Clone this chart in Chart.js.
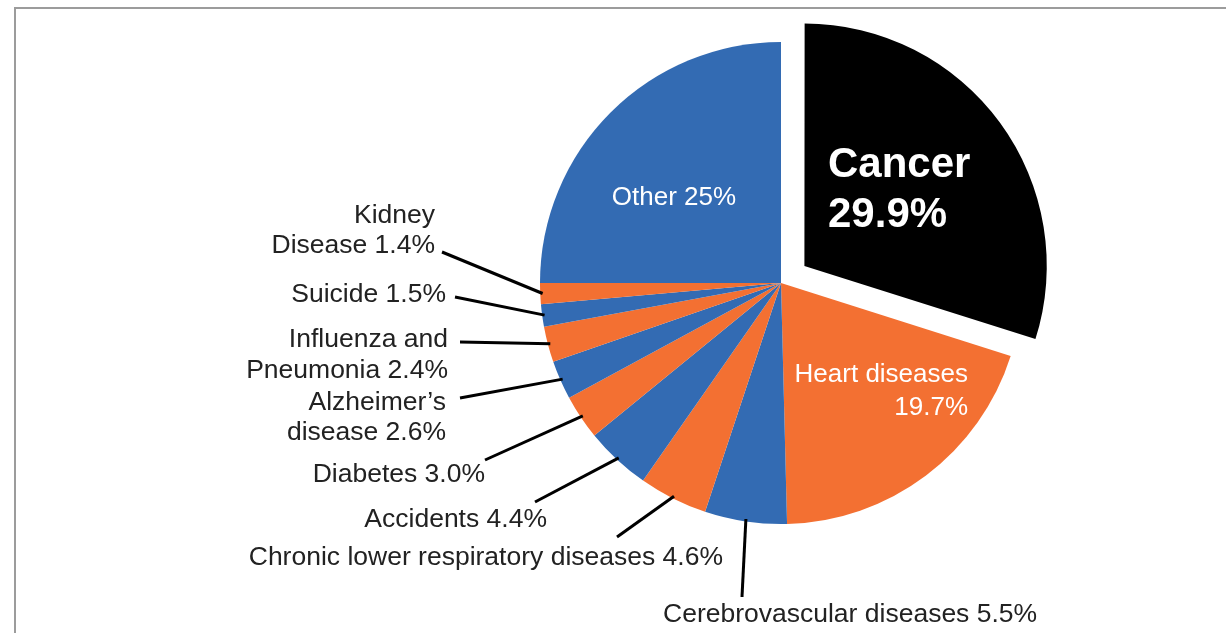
<!DOCTYPE html>
<html>
<head>
<meta charset="utf-8">
<title>Leading causes of death</title>
<script src="https://cdn.jsdelivr.net/npm/chart.js@4.4.1/dist/chart.umd.min.js"></script>
<style>
    html, body { margin: 0; padding: 0; background: #fff; }
    #wrap { position: relative; width: 1226px; height: 633px; overflow: hidden; }
    #frame {
        position: absolute; left: 14px; top: 7px; width: 1300px; height: 700px;
        border-top: 2px solid #9c9c9c; border-left: 2px solid #9c9c9c;
    }
    #pie { position: absolute; left: 0; top: 0; }
</style>
</head>
<body>
<div id="wrap">
    <div id="frame"></div>
    <canvas id="pie" width="1226" height="633"></canvas>
</div>
<script>
    "use strict";

    // Share of deaths by cause (%), clockwise from 12 o'clock
    var causes = ["Cancer", "Heart diseases", "Cerebrovascular diseases",
        "Chronic lower respiratory diseases", "Accidents", "Diabetes",
        "Alzheimer\u2019s disease", "Influenza and Pneumonia", "Suicide",
        "Kidney Disease", "Other"];
    var shares = [29.9, 19.7, 5.5, 4.6, 4.4, 3.0, 2.6, 2.4, 1.5, 1.4, 25];

    var BLUE = "#336bb3", ORANGE = "#f37032";
    var sliceColors = ["#000000", ORANGE, BLUE, ORANGE, BLUE, ORANGE,
        BLUE, ORANGE, BLUE, ORANGE, BLUE];

    var pct = function (i, digits) {
        return shares[i].toFixed(digits) + "%";
    };

    // label layout, offsets from the pie centre
    // inside: text sits on the slice; outside: text + leader line to the rim
    var labelSpecs = [
        { i: 0, inside: true, font: "bold 42px", color: "#fff", align: "left",
          x: 47, y: -106, lh: 50, lines: ["Cancer", pct(0, 1)] },
        { i: 1, inside: true, font: "26px", color: "#fff", align: "right",
          x: 187, y: 99, lh: 33, lines: ["Heart diseases", pct(1, 1)] },
        { i: 10, inside: true, font: "26px", color: "#fff", align: "center",
          x: -107, y: -78, lh: 30, lines: ["Other " + pct(10, 0)] },
        { i: 2, align: "left", x: -118, y: 339, lh: 30,
          lines: ["Cerebrovascular diseases " + pct(2, 1)], lx: -39, ly: 314 },
        { i: 3, align: "right", x: -58, y: 282, lh: 30,
          lines: ["Chronic lower respiratory diseases " + pct(3, 1)], lx: -164, ly: 254 },
        { i: 4, align: "right", x: -234, y: 244, lh: 30,
          lines: ["Accidents " + pct(4, 1)], lx: -246, ly: 219 },
        { i: 5, align: "right", x: -296, y: 199, lh: 30,
          lines: ["Diabetes " + pct(5, 1)], lx: -296, ly: 177 },
        { i: 6, align: "right", x: -335, y: 127, lh: 30,
          lines: ["Alzheimer\u2019s", "disease " + pct(6, 1)], lx: -321, ly: 115 },
        { i: 7, align: "right", x: -333, y: 64, lh: 31,
          lines: ["Influenza and", "Pneumonia " + pct(7, 1)], lx: -321, ly: 59 },
        { i: 8, align: "right", x: -335, y: 19, lh: 30,
          lines: ["Suicide " + pct(8, 1)], lx: -326, ly: 14 },
        { i: 9, align: "right", x: -346, y: -60, lh: 30,
          lines: ["Kidney", "Disease " + pct(9, 1)], lx: -339, ly: -31 }
    ];

    var FONT_FAMILY = '"Liberation Sans", Arial, Helvetica, sans-serif';

    var sliceLabels = {
        id: "sliceLabels",
        afterDatasetsDraw: function (chart) {
            var ctx = chart.ctx;
            var arcs = chart.getDatasetMeta(0).data;
            var cx = arcs[0].x, cy = arcs[0].y;

            ctx.save();
            labelSpecs.forEach(function (s) {
                if (!s.inside) {
                    // leader line from the label to the middle of its slice rim
                    var a = arcs[s.i].getProps(["startAngle", "endAngle", "outerRadius"], true);
                    var mid = (a.startAngle + a.endAngle) / 2;
                    var r = a.outerRadius * 0.99;
                    ctx.beginPath();
                    ctx.moveTo(cx + s.lx, cy + s.ly);
                    ctx.lineTo(cx + Math.cos(mid) * r, cy + Math.sin(mid) * r);
                    ctx.lineWidth = 3;
                    ctx.strokeStyle = "#000";
                    ctx.stroke();
                }
                ctx.font = (s.font || "26.5px") + " " + FONT_FAMILY;
                ctx.fillStyle = s.color || "#222";
                ctx.textAlign = s.align;
                ctx.textBaseline = "alphabetic";
                s.lines.forEach(function (line, k) {
                    ctx.fillText(line, cx + s.x, cy + s.y + k * s.lh);
                });
            });
            ctx.restore();
        }
    };

    new Chart(document.getElementById("pie"), {
        type: "pie",
        data: {
            labels: causes,
            datasets: [{
                data: shares,
                backgroundColor: sliceColors,
                borderWidth: 0,
                // pull the first slice out of the pie
                offset: function (c) { return c.dataIndex === 0 ? 116 : 0; }
            }]
        },
        options: {
            responsive: false,
            animation: false,
            events: [],
            radius: 241,
            layout: { padding: { left: 480, right: 144, top: 0, bottom: 67 } },
            plugins: {
                legend: { display: false },
                tooltip: { enabled: false }
            }
        },
        plugins: [sliceLabels]
    });
</script>
</body>
</html>
